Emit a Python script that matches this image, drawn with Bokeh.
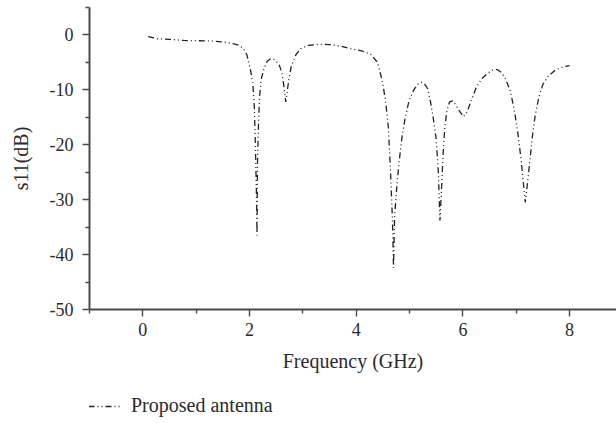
from bokeh.plotting import figure
from bokeh.layouts import column
from bokeh.models import Legend, LegendItem, Range1d, FixedTicker
from bokeh.embed import file_html
from bokeh.resources import INLINE

freq_ghz = [0.10, 0.28, 0.50, 0.77, 1.00, 1.27, 1.52, 1.65, 1.78, 1.88, 1.95, 2.02, 2.06, 2.09, 2.11,
            2.13, 2.14, 2.15, 2.17, 2.19, 2.22, 2.27, 2.33, 2.40, 2.47, 2.55, 2.60, 2.64, 2.68, 2.71,
            2.74, 2.78, 2.87, 2.96, 3.10, 3.30, 3.50, 3.70, 3.90, 4.10, 4.27, 4.40, 4.49, 4.55, 4.60,
            4.64, 4.68, 4.70, 4.72, 4.76, 4.80, 4.86, 4.92, 4.99, 5.08, 5.15, 5.22, 5.28, 5.34, 5.40,
            5.45, 5.50, 5.54, 5.57, 5.60, 5.63, 5.66, 5.70, 5.75, 5.81, 5.87, 5.93, 6.01, 6.08, 6.16,
            6.25, 6.35, 6.46, 6.56, 6.64, 6.72, 6.80, 6.89, 6.97, 7.04, 7.10, 7.14, 7.17, 7.20, 7.25,
            7.30, 7.35, 7.42, 7.50, 7.60, 7.73, 7.88, 8.00]
s11_db = [-0.3, -0.7, -0.8, -1.0, -1.05, -1.1, -1.3, -1.5, -1.8, -2.4, -3.6, -6.5, -8.6, -13.0, -20.0,
          -29.0, -36.5, -23.0, -15.6, -11.0, -8.0, -6.2, -4.8, -4.3, -4.5, -5.3, -6.6, -9.0, -12.2, -10.0,
          -8.0, -5.8, -3.6, -2.5, -1.9, -1.7, -1.75, -2.0, -2.5, -2.9, -3.5, -5.0, -8.4, -12.0, -16.5,
          -24.0, -33.8, -42.4, -33.0, -27.8, -23.5, -18.5, -15.0, -12.0, -10.0, -9.0, -8.6, -8.9, -9.8, -12.5,
          -15.5, -19.0, -25.0, -33.8, -28.0, -21.5, -17.0, -13.8, -12.2, -12.0, -12.8, -13.8, -14.9, -14.0, -11.8,
          -9.6, -8.0, -7.0, -6.4, -6.3, -6.8, -8.0, -10.2, -14.0, -18.5, -23.5, -27.5, -30.5, -28.0, -23.5,
          -18.7, -15.0, -11.5, -9.0, -7.5, -6.4, -5.8, -5.6]

x_ticks = [0, 2, 4, 6, 8]
y_ticks = [0, -10, -20, -30, -40, -50]
series_name = "Proposed antenna"

FONT = "Liberation Serif"
TXT = "#2b2b2b"
AX = "#4a4a4a"
LINE_STYLE = dict(line_color="#222222", line_width=1.3, line_dash="6 3 1 3 1 3")

p = figure(width=616, height=380, output_backend="svg", toolbar_location=None,
           x_range=Range1d(-1, 8.88), y_range=Range1d(-50, 5),
           min_border_left=89, min_border_right=0, min_border_top=7, min_border_bottom=71)
p.outline_line_color = None
p.grid.visible = False

r = p.line(freq_ghz, s11_db, **LINE_STYLE)

for ax in (p.xaxis[0], p.yaxis[0]):
    ax.axis_line_color = AX
    ax.axis_line_width = 2
    ax.major_tick_line_color = AX
    ax.minor_tick_line_color = AX
    ax.major_tick_line_width = 1.4
    ax.minor_tick_line_width = 1.4
    ax.major_tick_out = 7
    ax.major_tick_in = 0
    ax.minor_tick_out = 4
    ax.minor_tick_in = 0
    ax.major_label_text_font = FONT
    ax.major_label_text_font_size = "18px"
    ax.major_label_text_color = TXT
    ax.axis_label_text_font = FONT
    ax.axis_label_text_font_size = "20px"
    ax.axis_label_text_font_style = "normal"
    ax.axis_label_text_color = TXT

p.xaxis.ticker = FixedTicker(ticks=x_ticks, minor_ticks=[-1, 1, 3, 5, 7])
p.yaxis.ticker = FixedTicker(ticks=y_ticks, minor_ticks=[5, -5, -15, -25, -35, -45])
p.xaxis.major_label_overrides = {t: str(t) for t in x_ticks}
p.yaxis.major_label_overrides = {t: str(t) for t in y_ticks}
p.xaxis.axis_label = "Frequency (GHz)"
p.yaxis.axis_label = "s11(dB)"
p.xaxis.major_label_standoff = 6
p.yaxis.major_label_standoff = 9
p.xaxis.axis_label_standoff = 11
p.yaxis.axis_label_standoff = 15

# legend strip below the chart (its frame is aligned with the chart frame by the column)
p2 = figure(width=616, height=43, output_backend="svg", toolbar_location=None,
            x_axis_type=None, y_axis_type=None, x_range=Range1d(100, 101), y_range=Range1d(100, 101),
            min_border=0)
p2.outline_line_color = None
p2.grid.visible = False
key = p2.line(freq_ghz, s11_db, **LINE_STYLE)  # same series, outside this strip's view: only its key shows
legend = Legend(items=[LegendItem(label=series_name, renderers=[key])],
                location=(-1, 6), orientation="horizontal",
                border_line_color=None, background_fill_alpha=0,
                padding=0, margin=0, glyph_width=33, glyph_height=20,
                label_height=20, label_standoff=10,
                label_text_font=FONT, label_text_font_size="20px", label_text_color=TXT)
p2.add_layout(legend, "center")

layout = column(p, p2, spacing=0)
open("out.html", "w").write(file_html(layout, INLINE))
